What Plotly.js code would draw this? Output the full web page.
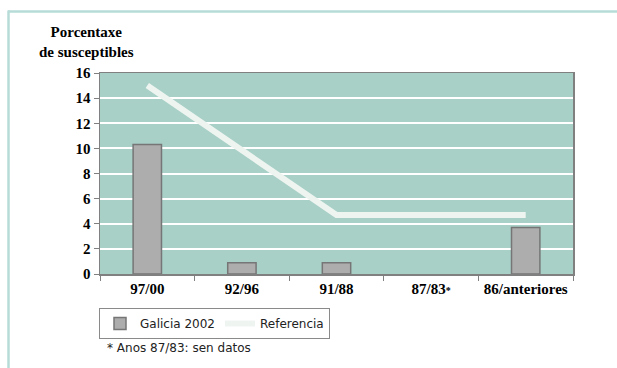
<!DOCTYPE html>
<html><head><meta charset="utf-8">
<script src="https://cdn.plot.ly/plotly-3.0.1.min.js"></script>
<style>html,body{margin:0;padding:0;background:#fff;}#chart{width:617px;height:368px;}</style>
</head><body><div id="chart"></div>
<script>
var categories = ['97/00', '92/96', '91/88', '87/83', '86/anteriores'];
var tickLabels = ['97/00', '92/96', '91/88', '87/83<span style="font-size:10px">*</span>', '86/anteriores'];
var galicia2002 = [10.3, 0.9, 0.9, null, 3.7];
var referencia = [15, 9.85, 4.7, 4.7, 4.7];
var seriesNames = ['Galicia 2002', 'Referencia'];
var yTitle = 'Porcentaxe<br>de susceptibles';
var footnote = '* Anos 87/83: sen datos';

var L = 100, R = 44, T = 73, B = 94, W = 617, H = 368;
var pw = W - L - R, ph = H - T - B;
function px(x) { return (x - L) / pw; }
function py(y) { return (H - B - y) / ph; }

var traces = [
  {type: 'bar', x: categories, y: galicia2002, name: seriesNames[0], width: 0.3,
   marker: {color: '#adadad', line: {color: '#767676', width: 1.5}}, hoverinfo: 'skip'},
  {type: 'scatter', mode: 'lines', x: categories, y: referencia, name: seriesNames[1],
   line: {color: '#eef4f0', width: 6}, hoverinfo: 'skip'}
];

var serif = {family: 'Liberation Serif, Times New Roman, serif', size: 15, color: '#000', weight: 'bold'};
var sans = {family: 'DejaVu Sans, Verdana, sans-serif', size: 12, color: '#222'};
var layout = {
  width: W, height: H,
  margin: {l: L, r: R, t: T, b: B, pad: 0},
  paper_bgcolor: '#ffffff', plot_bgcolor: '#a8d0c7',
  showlegend: true,
  legend: {orientation: 'h', x: px(99), xanchor: 'left', y: py(308), yanchor: 'top',
    bordercolor: '#8a8a8a', borderwidth: 1, bgcolor: '#fff',
    font: sans, tracegroupgap: 0, traceorder: 'normal'},
  xaxis: {type: 'category', categoryarray: categories, tickvals: categories, ticktext: tickLabels,
    tickson: 'boundaries', ticks: 'outside', ticklen: 5, tickcolor: '#808080', tickwidth: 1,
    showline: true, linecolor: '#808080', linewidth: 1.5, mirror: true, showgrid: false,
    tickfont: serif, fixedrange: true},
  yaxis: {range: [0, 16], dtick: 2, ticks: 'outside', ticklen: 5, tickcolor: '#808080',
    showline: true, linecolor: '#808080', linewidth: 1.5, mirror: true,
    showgrid: true, gridcolor: '#ffffff', gridwidth: 2, zeroline: false,
    tickfont: serif, fixedrange: true},
  annotations: [
    {xref: 'paper', yref: 'paper', x: px(86), y: py(42), xanchor: 'center', yanchor: 'middle',
     text: yTitle, showarrow: false, align: 'center', font: serif},
    {xref: 'paper', yref: 'paper', x: px(105), y: py(348), xanchor: 'left', yanchor: 'middle',
     text: footnote, showarrow: false, font: sans}
  ],
  shapes: [
    {type: 'line', xref: 'paper', yref: 'paper', x0: px(8), x1: px(617), y0: py(11.5), y1: py(11.5),
     line: {color: '#b7dcd7', width: 2.5}},
    {type: 'line', xref: 'paper', yref: 'paper', x0: px(8.5), x1: px(8.5), y0: py(10.5), y1: py(368),
     line: {color: '#b7dcd7', width: 2.5}}
  ]
};
Plotly.newPlot('chart', traces, layout, {displayModeBar: false, staticPlot: true});
</script></body></html>
